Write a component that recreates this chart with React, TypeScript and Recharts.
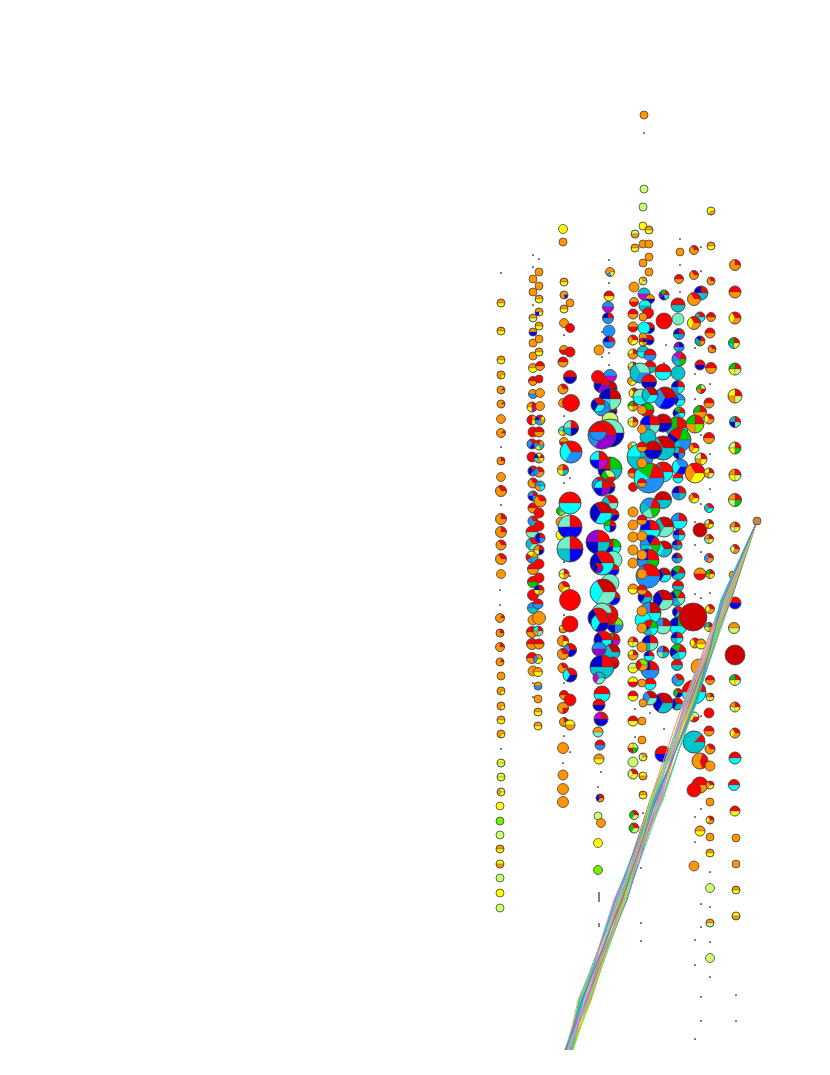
import { ScatterChart, Scatter, XAxis, YAxis, Sector } from 'recharts'

type Pt = [number, number, number, string]

// one letter per category, a pie's mix is a string of equal shares
const palette: Record<string, string> = {
  O: '#ff9500', Y: '#ffff00', R: '#ff0000', D: '#cd0000', L: '#caff70',
  G: '#00cd00', C: '#76ee00', A: '#76eec6', T: '#00c5cd', U: '#00ffff',
  S: '#1e90ff', B: '#0000ff', N: '#0000cd', P: '#9400d3', M: '#cd00cd',
  K: '#cd853f',
}

const col501: Pt[] = [
  [501,303,4,'OY'],[501,331,4,'OY'],[501,360,4,'OY'],[501,375,4,'OOOY'],[501,390,4,'ROOOOOOO'],[501,404,4,'ROOOOOOO'],
  [501,419,4.5,'O'],[501,433,4.5,'ROOOOOOO'],[501,461,4,'ROOO'],[501,477,4.5,'O'],[501,491,5.5,'ROO'],[501,519,5.5,'ROOO'],
  [501,532,5.5,'ROOO'],[501,545,5,'ROO'],[501,559,5.5,'ROO'],[501,574,4.5,'O'],[500,618,4.5,'ROOOOO'],[500,633,4,'ROOO'],
  [500,647,4.5,'ROOO'],[500,662,4,'ROOOOO'],[501,676,4,'O'],[501,691,4,'OOOY'],[501,706,4,'OOOY'],[501,720,4,'OY'],
  [501,734,4,'OOOY'],[501,763,4,'YL'],[501,777,4,'LY'],[501,792,4,'LOY'],[500,806,4,'Y'],[500,821,4,'C'],[500,835,4,'L'],
  [500,849,4,'OY'],[500,864,4,'YO'],[500,878,4,'L'],[500,893,4,'Y'],[500,908,4,'L'],
]

const col533: Pt[] = [
  [533,279,4,'O'],[533,292,4,'O'],[533,318,4,'OL'],[533,332,4,'OB'],[533,343,4,'O'],[533,356,4,'O'],[533,368,4.5,'OY'],
  [533,381,4.5,'RO'],[533,394,4.5,'OS'],[532,407,5,'ROYM'],[532,420,5,'ORRY'],[533,432,5,'R'],[532,444,5,'RSB'],[532,457,5,'R'],
  [533,471,5,'RNS'],[533,483,5,'ROO'],[533,496,5,'RSBT'],[533,508,5,'RO'],[533,521,5,'RST'],[532,532,6,'RA'],[532,544,6,'RTA'],
  [532,557,6,'OYRST'],[533,569,5.5,'RO'],[533,582,5.5,'RG'],[533,595,5.5,'R'],[533,608,5.5,'OSTT'],[533,620,5,'O'],
  [532,632,5.5,'RO'],[532,644,5.5,'RO'],[532,658,5.5,'RO'],[533,671,5,'O'],
]

const col539: Pt[] = [
  [539,272,4,'O'],[539,286,4,'O'],[539,299,4,'OY'],[539,312,4,'OOBY'],[539,326,4,'OY'],[539,339,4,'O'],[539,352,4,'OY'],
  [540,366,4.5,'RO'],[539,379,4,'R'],[540,393,4.5,'O'],[540,406,4.5,'O'],[540,420,5,'YRNSTO'],[539,432,5,'RO'],[539,445,5,'ORSYT'],
  [539,458,5,'RYNUOY'],[539,472,5,'RSO'],[540,486,5,'TSOU'],[540,501,6,'ROO'],[539,513,5,'R'],[539,526,5,'R'],[540,538,5,'RNBS'],
  [539,550,5,'ROYN'],[539,564,5,'R'],[539,578,5,'R'],[539,590,5,'RNYO'],[538,604,5,'RS'],[539,618,6.5,'O'],[538,631,5,'RUOA'],
  [539,644,5,'RO'],[538,659,4.5,'OSY'],[538,672,4.5,'OY'],[538,686,4,'OS'],[538,699,4,'O'],[538,712,4,'OY'],[538,726,4,'OY'],
]

const col563: Pt[] = [
  [563,229,4.5,'Y'],[563,242,4,'O'],[564,282,4,'OY'],[564,295,4,'OOOOB'],[570,303,4,'O'],[564,309,4,'OY'],[564,323,4.5,'O'],
  [570,328,4.5,'R'],[564,350,4.5,'OR'],[570,352,5,'R'],[563,362,5,'RO'],[570,377,6.5,'RN'],[563,389,5,'ROO'],[563,403,4.5,'O'],
  [571,403,8.5,'R'],[563,431,4.5,'RUYO'],[571,428,7.5,'RATN'],[564,442,4.5,'OR'],[571,452,11,'RUS'],[563,470,5.5,'ROYT'],
  [561,511,4.5,'YGC'],[570,503,11,'RU'],[561,522,5,'O'],[561,535,5,'Y'],[570,527,12,'RABB'],[570,549,13,'RATB'],
  [564,574,5,'RLYO'],[564,587,5.5,'ROY'],[570,600,10.5,'R'],[563,629,4,'YO'],[570,624,8,'R'],[563,641,5.5,'ROOY'],[570,650,6.5,'RSN'],
  [563,654,5.5,'ROO'],[563,668,5,'ROO'],[570,675,7,'RUN'],[564,695,4.5,'RO'],[570,700,6,'R'],[563,708,5.5,'OOOR'],[564,722,4.5,'ROOY'],
  [570,725,5,'YO'],[563,748,5.5,'O'],[563,775,5,'O'],[563,789,5.5,'O'],[563,802,5.5,'O'],
]

const col600: Pt[] = [
  [610,272,4.5,'OOOSY'],[609,296,5,'RY'],[608,307,5.5,'SM'],[608,318,5.5,'RNSS'],[609,331,6,'S'],[609,342,6,'RNSS'],[599,350,5,'O'],
  [610,376,6.5,'SM'],[610,388,7,'DN'],[602,385,8,'RNP'],[598,377,6.5,'R'],[612,411,5,'DN'],[610,399,11,'DNUA'],[602,408,8,'SUS'],
  [598,405,7,'RNU'],[610,420,8,'LA'],[610,433,14,'AAUN'],[602,435,14,'RSP'],[598,432,8.5,'RS'],[610,469,12,'GRNT'],[608,477,7,'LGR'],
  [599,460,9,'RUBM'],[608,487,7,'RGDN'],[600,485,8,'RST'],[602,488,8,'RUBP'],[610,503,8,'RTA'],[613,515,6,'RGN'],[601,513,11,'DNU'],
  [610,526,6,'RGUN'],[613,547,8,'GRNU'],[598,542,12,'RPNT'],[613,560,9,'A'],[613,570,6,'RB'],[602,563,12,'RNU'],[598,568,5,'RNP'],
  [610,583,9,'A'],[613,598,7,'RSB'],[603,592,13,'DUA'],[615,625,8,'CGNS'],[608,615,10,'RMR'],[602,613,10,'AR'],[598,618,10,'RNU'],
  [600,623,9,'RUN'],[613,640,7,'RGNM'],[603,640,9,'RNU'],[612,652,8,'DTT'],[599,649,7,'SP'],[613,663,6,'RUD'],[602,667,12,'RNTT'],
  [599,678,6,'TMA'],[602,694,8,'RU'],[599,705,6,'RN'],[601,719,7,'RMNB'],[598,732,5,'OA'],[600,745,5,'RS'],[599,759,5,'OY'],
  [600,798,4,'RBO'],[598,816,4,'L'],[601,823,4.5,'O'],[598,843,4.5,'Y'],[598,870,4.5,'C'],
]

const col633: Pt[] = [
  [644,115,4,'O'],[644,189,4,'L'],[643,207,4,'L'],[643,226,4,'Y'],[649,230,4,'OY'],[635,234,4,'LO'],[643,244,4,'O'],[649,244,4,'O'],
  [635,248,4,'OY'],[649,257,4,'O'],[643,263,4,'O'],[649,272,4,'O'],[643,281,4,'OYL'],[634,287,5,'O'],[634,302,4.5,'OR'],[633,314,5,'RO'],
  [633,327,5,'OR'],[633,340,5,'ROY'],[633,354,5,'RYOO'],[633,367,5,'RLOY'],[632,381,4.5,'LOY'],[634,393,5,'RYL'],[633,406,5,'RGYO'],
  [633,422,5,'RLYO'],[633,447,5,'LOY'],[633,473,5,'RO'],[633,487,4.5,'R'],[633,512,5,'O'],[633,525,5,'O'],[633,537,5,'O'],[633,550,5,'O'],
  [633,563,5,'O'],[633,589,5,'OY'],[633,642,5,'ROYL'],[633,655,5,'RYOO'],[633,668,5,'LY'],[633,682,5,'YR'],[633,696,5,'RY'],[633,721,5,'RY'],
  [633,748,5,'LYRG'],[633,762,5,'L'],[633,774,5,'RLY'],[634,815,4.5,'RGL'],[634,828,5,'RGL'],
]

const col664: Pt[] = [
  [664,295,5,'RGPNU'],[664,321,8,'R'],[663,372,8,'RU'],[665,398,11,'DSB'],[663,423,9,'DN'],[663,448,12,'DTT'],[663,472,10,'RTU'],
  [663,500,8.5,'DT'],[664,527,10,'DTA'],[664,549,8,'DUT'],[664,575,7,'DNU'],[663,600,10,'DNA'],[663,626,8,'DSAA'],[663,652,6,'DSAT'],
  [663,703,10,'DNT'],[663,754,8,'RB'],
]

const col650: Pt[] = [
  [644,294,6,'TM'],[650,299,4.5,'ON'],[645,306,6,'UT'],[648,313,5.5,'R'],[649,328,5.5,'RN'],[644,328,6,'U'],[649,340,5,'RN'],
  [643,352,6,'TU'],[650,355,6,'RS'],[650,367,6,'RT'],[640,373,10,'ATS'],[649,382,7.5,'RN'],[641,397,8,'AU'],[650,395,8,'DTU'],
  [647,410,7,'GNR'],[650,425,10,'RBSA'],[648,437,8,'T'],[640,457,13,'TUTS'],[653,450,9,'DN'],[649,478,15,'RGUSS'],
  [650,508,10,'RSTAG'],[650,530,10,'RBUU'],[650,545,10,'RNSTUG'],[648,560,11,'RBSG'],[648,576,12,'RSS'],[645,597,7,'RNT'],
  [650,613,11,'DSUU'],[643,620,8,'U'],[650,628,8,'GRNTU'],[650,643,8,'RNTA'],[649,656,5,'RNUU'],[650,670,9,'RNSS'],[650,684,6,'RU'],[650,698,7,'DSA'],
]

const col642: Pt[] = [
  [643,317,4,'O'],[643,337,4,'O'],[643,342,4,'NRYO'],[642,410,4.5,'O'],[642,429,4.5,'O'],[642,447,5,'RO'],[642,463,5,'O'],[642,483,4.5,'RO'],
  [642,520,5,'RO'],[642,536,5,'O'],[642,555,5,'O'],[642,574,5,'O'],[642,590,5,'RO'],[642,611,5,'O'],[642,628,5,'O'],[642,647,5,'O'],
  [642,665,6,'CRO'],[642,683,4,'O'],[643,703,4,'O'],[642,721,4,'O'],[642,740,4,'O'],[643,757,4,'OLY'],[643,776,4,'YO'],[643,795,4,'OY'],
]

const col678: Pt[] = [
  [680,252,4,'O'],[679,279,4.5,'RO'],[678,305,7,'RT'],[678,319,6,'A'],[679,334,5.5,'RNTS'],[679,347,5,'NPTS'],[679,359,7,'RMSTG'],
  [678,373,7,'T'],[678,387,6.5,'RNSU'],[679,400,6,'SNU'],[679,413,6,'RGNTU'],[677,428,11,'RGTU'],[679,440,12,'GRNTS'],[679,453,6,'RTNS'],
  [680,467,8,'SUB'],[678,478,5,'RU'],[679,493,7,'RNST'],[679,521,8,'RSUU'],[679,535,6,'RNSU'],[677,545,5,'RNST'],[677,558,5,'RNST'],
  [678,573,7,'RGNTT'],[678,586,5.5,'RT'],[677,598,8,'RGNSTA'],[678,612,5.5,'RNT'],[678,626,9,'GNUU'],[677,638,6,'RNTU'],[678,652,8,'RGNTU'],
  [677,665,5.5,'RT'],[678,680,6,'RST'],[678,693,4.5,'RGN'],[677,704,6,'RNT'],
]

const col694: Pt[] = [
  [694,250,4.5,'ROO'],[694,275,4.5,'ROO'],[701,293,7,'RNUT'],[694,299,6.5,'ROO'],[700,317,5,'RTU'],[694,323,6.5,'RYO'],[700,341,5,'RNSGO'],
  [700,365,5,'RN'],[701,389,4.5,'LGOR'],[700,412,6.5,'RGOO'],[695,424,9,'RGOC'],[694,448,5,'ROY'],[701,459,6,'RLOY'],[695,473,10,'ROY'],
  [694,498,5,'ROY'],[700,530,7,'D'],[700,574,6,'OR'],[693,617,14,'D'],[695,643,5,'RYO'],[701,644,5,'OY'],[699,667,8,'O'],[694,692,12,'RU'],
  [694,717,5,'LYR'],[694,742,11,'RTTTTTTT'],[700,761,8,'ROOOR'],[700,785,8,'RO'],[694,790,7,'R'],[700,831,5,'OY'],[694,866,5,'O'],
]

const col710: Pt[] = [
  [711,211,4,'YYO'],[711,246,4,'OY'],[711,281,4,'ROO'],[711,317,4.5,'RO'],[710,333,5,'RO'],[712,349,4,'ROO'],[711,368,5.5,'RO'],[709,403,5,'RO'],
  [709,419,5,'RYO'],[709,438,5.5,'RO'],[709,473,5,'RYOL'],[709,508,4.5,'RTU'],[709,524,4.5,'RLOY'],[709,539,4.5,'ROAY'],[709,558,4.5,'RSO'],
  [710,574,4.5,'RGOY'],[710,609,4.5,'RYO'],[709,627,4.5,'RTYO'],[710,680,4.5,'RO'],[710,697,4,'ROLY'],[709,713,5,'R'],[709,731,5,'RO'],
  [710,749,5,'ROO'],[710,766,5,'O'],[710,785,4,'ROY'],[710,802,4,'O'],[710,820,4,'RYO'],[710,837,4,'O'],[710,853,4,'OY'],[710,888,4.5,'L'],
  [710,923,4,'OL'],[710,958,4.5,'L'],
]

const col735: Pt[] = [
  [735,265,5.5,'ROOO'],[735,292,6,'RO'],[735,318,6,'RYO'],[734,343,5.5,'RGTY'],[735,369,6,'RGYL'],[735,396,7,'RYOL'],[735,422,5.5,'RTNA'],
  [735,448,6,'RLYG'],[735,475,6,'ROYL'],[735,500,6.5,'ROLG'],[735,527,5,'ROLY'],[735,549,4.5,'RLO'],[733,575,4,'O'],[735,603,6,'RB'],
  [734,628,5.5,'OL'],[735,655,10,'D'],[735,680,5.5,'RGYL'],[735,707,5,'ROLY'],[735,733,5,'RYO'],[735,758,6,'RU'],[734,785,5.5,'RU'],
  [735,811,5,'RY'],[736,838,4,'O'],[736,864,4,'O'],[736,890,4,'OY'],[736,916,4,'YO'],
]

const apex: Pt[] = [[757,521,4,'K']]

const specks: [number, number][] = [
  [501,273],[501,447],[501,505],[500,590],[500,605],[501,749],[533,255],[539,259],[533,267],[533,305],[533,683],[533,697],
  [564,335],[564,416],[570,478],[564,483],[564,562],[570,576],[564,615],[564,683],[564,736],[570,752],[563,763],
  [609,260],[609,283],[602,332],[609,353],[602,357],[609,365],[601,772],[598,787],[599,893],[599,895],[599,897],[599,899],[599,901],
  [599,924],[599,926],[644,133],[666,345],[664,363],[635,709],[650,713],[664,729],[635,737],[643,813],[643,849],[641,868],[641,923],[641,941],
  [680,239],[680,265],[680,292],[701,247],[701,271],[695,348],[695,374],[710,384],[695,399],[701,435],[710,454],[710,489],[701,504],
  [695,522],[695,545],[701,552],[695,594],[701,598],[710,593],[701,716],[701,809],[695,817],[695,842],[710,872],[701,904],[710,907],
  [701,927],[695,940],[710,942],[695,965],[710,977],[701,997],[701,1021],[695,1039],[736,995],[736,1021],
]

// the fan of thin lines out of the apex, x read at each of these heights
const fanY = [521, 600, 700, 800, 900, 1000, 1050]
const fanX = [
  [757,722,686,652,616,581,565],[757,731,696,662,626,590,572],[757,724,688,654,621,583,566],[757,729,693,659,617,588,570],
  [757,725,687,651,623,580,565],[757,722,697,661,619,589,573],[757,730,689,655,615,584,567],[757,726,695,656,625,582,571],
  [757,723,691,650,618,587,566],[757,731,685,660,622,591,572],[757,724,692,653,627,581,569],[757,728,696,662,616,589,567],
  [757,725,688,652,620,583,573],[757,721,694,658,624,586,568],[757,729,697,655,617,579,570],[757,727,685,661,622,590,565],
  [757,723,690,651,619,584,571],[757,730,694,657,614,582,569],[757,722,686,660,626,588,566],[757,728,692,653,621,585,572],
  [757,726,695,663,618,580,568],[757,724,684,650,623,591,570],[757,731,690,658,627,586,565],[757,721,698,654,615,583,571],
  [757,727,689,662,620,578,567],[757,729,693,652,625,589,573],[757,725,687,659,617,585,569],[757,723,696,656,622,582,566],
]
const fanColors = [
  '#ff7f50','#66cdaa','#ba55d3','#ffa54f','#87ceeb','#9acd32','#ee82ee','#40e0d0','#cd5c5c','#7cfc00',
  '#6495ed','#ff69b4','#3cb371','#daa520','#20b2aa','#da70d6','#90ee90','#f08080','#48d1cc','#bc8f8f',
  '#00fa9a','#ff8c69','#9370db','#00bfff','#f4a460','#7fff00','#ff83fa','#53868b',
]

const columns = [col501, col533, col539, col563, col600, col633, col678, col664, col650, col642, col694, col710, col735]

const toRows = (col: Pt[]) => col.map(([x, y, n, mix]) => ({ x, y, n, mix }))

// merge neighbouring equal shares, first share starts at 3 o'clock going counter clockwise
function PieMark(props: any) {
  const { cx, cy, payload } = props
  const mix: string = payload.mix
  const r: number = payload.n
  const step = 360 / mix.length
  const runs: { key: string; start: number; end: number }[] = []
  mix.split('').forEach((key, i) => {
    const last = runs[runs.length - 1]
    if (last && last.key === key) last.end = (i + 1) * step
    else runs.push({ key, start: i * step, end: (i + 1) * step })
  })
  if (runs.length === 1) {
    return <circle cx={cx} cy={cy} r={r} fill={palette[runs[0].key]} stroke="#444" strokeWidth={0.8} />
  }
  return (
    <g>
      {runs.map((run, i) => (
        <Sector
          key={i}
          cx={cx}
          cy={cy}
          innerRadius={0}
          outerRadius={r}
          startAngle={run.start}
          endAngle={run.end}
          fill={palette[run.key]}
          stroke="#444"
          strokeWidth={0.3}
        />
      ))}
      <circle cx={cx} cy={cy} r={r} fill="none" stroke="#444" strokeWidth={0.8} />
    </g>
  )
}

const Speck = (props: any) => <circle cx={props.cx} cy={props.cy} r={0.85} fill="#000" />
const NoMark = () => <g />

export default function App() {
  return (
    <div style={{ position: 'absolute', left: 0, top: 0, width: 830, height: 1075, background: '#fff' }}>
      <ScatterChart width={830} height={1075} margin={{ top: 0, right: 0, bottom: 0, left: 0 }}>
        <XAxis type="number" dataKey="x" domain={[0, 830]} hide />
        <YAxis type="number" dataKey="y" domain={[0, 1075]} reversed hide />
        <Scatter
          data={specks.map(([x, y]) => ({ x, y }))}
          shape={Speck}
          isAnimationActive={false}
        />
        {columns.map((col, i) => (
          <Scatter key={i} data={toRows(col)} shape={PieMark} isAnimationActive={false} />
        ))}
        {fanX.map((xs, i) => (
          <Scatter
            key={'fan' + i}
            data={xs.map((x, j) => ({ x, y: fanY[j] }))}
            line={{ stroke: fanColors[i], strokeWidth: 1 }}
            shape={NoMark}
            isAnimationActive={false}
          />
        ))}
        <Scatter data={toRows(apex)} shape={PieMark} isAnimationActive={false} />
      </ScatterChart>
    </div>
  )
}
